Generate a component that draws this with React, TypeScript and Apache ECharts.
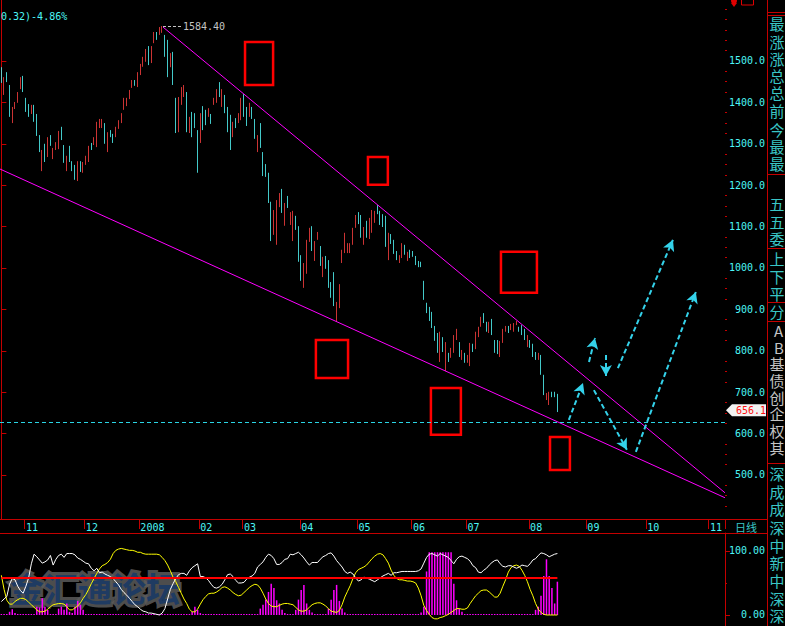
import React, { useEffect, useRef } from 'react';
import * as echarts from 'echarts';

// ---------- data ----------
const months = [
  { label: '', days: 9 },
  { label: '11', days: 22 },
  { label: '12', days: 20 },
  { label: '2008', days: 22 },
  { label: '02', days: 16 },
  { label: '03', days: 21 },
  { label: '04', days: 21 },
  { label: '05', days: 20 },
  { label: '06', days: 20 },
  { label: '07', days: 23 },
  { label: '08', days: 21 },
  { label: '09', days: 22 },
  { label: '10', days: 23 },
  { label: '11', days: 6 },
];

// [open, close, low, high]
const candles: number[][] = [
  [1485,1447,1447,1485],[1418,1461,1418,1461],[1473,1449,1449,1473],[1442,1365,1365,1442],[1350,1389,1350,1389],
  [1384,1401,1384,1401],[1399,1425,1399,1425],[1432,1461,1432,1461],[1464,1425,1425,1464],[1411,1377,1377,1411],
  [1396,1365,1365,1396],[1372,1394,1372,1394],[1394,1353,1353,1394],[1372,1319,1319,1372],[1321,1280,1280,1321],
  [1234,1285,1234,1285],[1300,1256,1256,1300],[1268,1316,1268,1316],[1321,1295,1295,1321],[1263,1290,1263,1290],
  [1285,1304,1285,1304],[1287,1331,1287,1331],[1341,1309,1309,1341],[1297,1254,1254,1297],[1234,1271,1234,1271],
  [1295,1256,1256,1295],[1258,1234,1234,1258],[1249,1213,1213,1249],[1210,1258,1210,1258],[1258,1232,1232,1258],
  [1230,1256,1230,1256],[1249,1271,1249,1271],[1256,1295,1256,1295],[1302,1285,1285,1302],[1297,1316,1297,1316],
  [1292,1353,1292,1353],[1338,1360,1338,1360],[1338,1360,1338,1360],[1350,1300,1300,1350],[1280,1328,1280,1328],
  [1333,1316,1316,1333],[1324,1302,1302,1324],[1316,1341,1316,1341],[1336,1357,1336,1357],[1350,1374,1350,1374],
  [1382,1411,1382,1411],[1391,1411,1391,1411],[1408,1430,1408,1430],[1435,1454,1435,1454],[1454,1440,1440,1454],
  [1437,1473,1437,1473],[1466,1493,1466,1493],[1486,1510,1486,1510],[1498,1529,1498,1529],[1536,1490,1490,1536],
  [1495,1536,1495,1536],[1543,1570,1543,1570],[1570,1551,1551,1570],[1563,1582,1563,1582],[1568,1584.4,1568,1584.4],
  [1563,1510,1510,1563],[1551,1461,1461,1551],[1485,1519,1485,1519],[1522,1442,1442,1522],[1411,1326,1326,1411],
  [1328,1413,1328,1413],[1394,1437,1394,1437],[1413,1442,1413,1442],[1425,1328,1328,1425],[1326,1365,1326,1365],
  [1377,1316,1316,1377],[1374,1338,1338,1374],[1333,1230,1230,1333],[1302,1374,1302,1374],[1391,1333,1333,1391],
  [1382,1345,1345,1382],[1365,1386,1365,1386],[1372,1348,1348,1372],[1394,1411,1394,1411],[1399,1432,1399,1432],
  [1449,1413,1413,1449],[1389,1432,1389,1432],[1418,1374,1374,1418],[1389,1328,1328,1389],[1370,1285,1285,1370],
  [1316,1353,1316,1353],[1362,1338,1338,1362],[1350,1374,1350,1374],[1357,1411,1357,1411],[1420,1365,1365,1420],
  [1389,1343,1343,1389],[1365,1399,1365,1399],[1389,1360,1360,1389],[1360,1312,1312,1360],[1280,1321,1280,1321],
  [1350,1290,1290,1350],[1280,1222,1222,1280],[1251,1220,1220,1251],[1230,1157,1157,1230],[1160,1065,1065,1160],
  [1080,1140,1080,1140],[1056,1164,1056,1164],[1147,1181,1147,1181],[1191,1133,1133,1191],[1102,1157,1102,1157],
  [1174,1145,1145,1174],[1104,1135,1104,1135],[1065,1138,1065,1138],[1126,1092,1092,1126],[1101,1015,1015,1101],
  [1031,969,969,1031],[952,1012,952,1012],[986,1068,986,1068],[1063,1097,1063,1097],[1101,1041,1041,1101],
  [1017,1065,1017,1065],[1068,1087,1068,1087],[1053,1005,1005,1053],[978,1027,978,1027],[1029,998,998,1029],
  [1019,952,952,1019],[966,928,928,966],[990,908,908,990],[870,918,870,918],[903,961,903,961],
  [1012,1044,1012,1044],[1036,1085,1036,1085],[1036,1060,1036,1060],[1036,1060,1036,1060],[1056,1097,1056,1097],
  [1097,1128,1097,1128],[1135,1106,1106,1135],[1128,1073,1073,1128],[1056,1099,1056,1099],[1114,1073,1073,1114],
  [1070,1121,1070,1121],[1085,1140,1085,1140],[1109,1138,1109,1138],[1152,1130,1130,1152],[1138,1104,1104,1138],
  [1130,1099,1099,1130],[1126,1051,1051,1126],[1019,1085,1019,1085],[1082,1058,1058,1082],[1068,1034,1034,1068],
  [1041,1019,1019,1041],[1012,1031,1012,1031],[1024,1060,1024,1060],[1056,1032,1032,1056],[1017,1039,1017,1039],
  [1044,1024,1024,1044],[1041,1027,1027,1041],[1029,1007,1007,1029],[1017,1002,1002,1017],[1015,1002,1002,1015],
  [969,923,923,969],[916,891,891,916],[906,872,872,906],[894,855,855,894],[860,824,824,860],
  [843,795,795,843],[773,846,773,846],[833,797,797,833],[751,821,751,821],[795,773,773,795],
  [783,807,783,807],[795,838,795,838],[826,853,826,853],[821,785,785,821],[778,802,778,802],
  [795,771,771,795],[771,790,771,790],[763,819,763,819],[817,797,797,817],[804,846,804,846],
  [833,858,833,858],[858,882,858,882],[891,867,867,891],[870,846,846,870],[843,870,843,870],
  [877,838,838,877],[826,795,795,826],[826,792,792,826],[785,824,785,824],[819,853,819,853],
  [846,860,846,860],[860,843,843,860],[850,865,850,865],[846,867,846,867],[862,872,862,872],
  [858,846,846,858],[862,838,838,862],[853,826,826,853],[809,838,809,838],[826,807,807,826],
  [817,785,785,817],[797,778,778,797],[778,795,778,795],[790,742,742,790],[742,693,693,742],
  [681,698,681,698],[669,701,669,701],[701,688,688,701],[701,688,688,701],[696,656.1,652,696],
];

const whiteLine = [
  21,25,29,48,57,55,45,38,34,45, 58,80,95,91,86,81,83,86,93,78,
  87,93,95,90,96,96,96,94,89,87, 84,81,80,73,69,73,66,67,64,62,
  60,57,52,47,40,35,31,26,21,16, 13,9,6,5,3,3,2,1,0,3,
  10,25,40,49,57,63,65,65,62,69, 74,77,80,60,60,58,54,48,43,42,
  44,48,55,63,64,60,54,50,50,51, 56,59,61,65,75,79,83,90,95,93,
  88,79,79,82,87,88,95,94,96,98, 94,89,83,78,82,82,82,87,91,93,
  96,97,92,85,80,75,68,65,67,64, 58,53,55,59,58,56,54,52,55,58,
  61,63,65,62,66,66,67,68,68,68, 68,68,68,69,72,81,90,95,96,94,
  92,96,94,92,90,85,80,87,91,92, 90,88,84,77,74,67,66,70,73,78,
  82,85,86,80,76,75,77,77,75,73, 75,78,77,76,80,86,88,93,97,96,
  94,91,93,95,96,
];

const yellowLine = [
  62,40,23,17,17,21,24,26,26,24, 20,16,12,8,5,5,6,9,13,16,
  17,18,18,17,13,8,8,11,14,19, 26,32,40,49,57,65,72,77,79,82,
  87,96,101,103,104,103,102,101,101,100, 98,98,96,95,95,95,95,95,94,90,
  85,78,69,59,52,43,34,25,18,9, 5,5,9,17,24,29,33,34,34,36,
  39,43,44,42,39,35,32,30,31,35, 39,43,46,48,47,42,34,25,18,14,
  13,13,15,17,18,18,17,16,12,8, 6,6,8,12,16,18,19,19,17,14,
  10,6,5,4,7,16,28,37,46,57, 66,71,73,75,78,83,88,92,95,96,
  94,88,81,70,62,57,55,55,54,53, 53,52,50,42,30,15,7,1,-4,-6,
  -6,-4,-3,-1,1,4,7,10,10,9, 9,11,18,24,30,34,38,39,39,36,
  32,28,28,34,45,55,67,74,77,78, 76,70,62,52,40,30,18,9,4,1,
  0,0,0,0,0,
];

const volBars = [
  0,0,0,5,9,3,0,0,0,0, 0,0,0,13,12,26,13,8,0,0,
  0,10,13,8,18,5,3,13,22,16, 8,0,0,0,0,0,0,0,0,0,
  0,0,0,0,0,0,0,0,0,0, 0,0,0,0,0,0,0,0,0,0,
  0,0,0,0,0,0,0,0,0,0, 5,13,8,3,0,0,0,0,0,0,
  0,0,0,0,0,0,0,0,0,0, 0,0,0,0,0,10,16,24,36,49,
  42,23,18,8,3,0,0,0,8,24, 39,47,18,8,4,0,0,0,0,0,
  10,24,39,47,22,10,4,0,0,0, 0,0,0,0,0,0,0,0,0,0,
  0,0,0,0,0,0,0,0,0,0, 0,0,0,0,4,13,68,98,98,98,
  98,98,98,98,98,98,49,23,10,5, 0,0,0,0,0,0,0,0,0,0,
  0,0,0,0,0,0,0,0,0,0, 0,0,0,0,0,0,8,13,30,61,
  87,61,42,18,52,
];

const peakValue = 1584.4;
const peakIndex = 59;
const lastClose = 656.1;
const supportLevel = 628;
const oscLevel = 58;
const priceTicks = [500, 600, 700, 800, 900, 1000, 1100, 1200, 1300, 1400, 1500];
const priceMinorTicks = [425,450,475,525,550,575,625,650,675,725,750,775,825,850,875,925,950,975,1025,1050,1075,1125,1150,1175,1225,1250,1275,1325,1350,1375,1425,1450,1475,1525,1550,1575,1600,1625];
const oscTicks = [0, 100];
const oscMinorTicks = [50];

// trend lines [index, price]
const trendUpper = [[59.3, 1582], [265.5, 457]];
const trendLower = [[-0.5, 1239], [265.5, 445]];
// forecast arrows: [[fromIndex, fromPrice], [toIndex, toPrice]]
const arrows = [
  [[208.2, 633], [213.4, 722]],
  [[215.6, 773], [217.8, 831]],
  [[221.8, 790], [221.8, 739]],
  [[217.4, 705], [229.5, 561]],
  [[226.2, 758], [246.4, 1068]],
  [[232.8, 556], [254.8, 942]],
];
// boxes: [fromIndex, toIndex, topPrice, bottomPrice]
const boxes = [
  [89.4, 99.7, 1546, 1442],
  [134.5, 141.8, 1268, 1201],
  [183.3, 196.5, 1039, 940],
  [115.4, 127.2, 826, 734],
  [157.6, 168.6, 710, 597],
  [201.3, 208.6, 592, 512],
];

const sideTexts = [
  ['最', 23, 'c'], ['涨', 41, 'c'], ['涨', 58, 'c'], ['总', 75, 'c'], ['总', 92, 'c'],
  ['前', 110, 'c'], ['今', 129, 'c'], ['最', 146, 'c'], ['最', 163, 'c'],
  ['五', 203, 'c'], ['五', 221, 'c'], ['委', 238, 'c'],
  ['上', 258, 'c'], ['下', 276, 'c'], ['平', 293, 'c'], ['分', 311, 'c'],
  ['A', 330, 'g'], ['B', 347, 'g'], ['基', 363, 'g'], ['债', 380, 'g'], ['创', 397, 'g'],
  ['企', 413, 'g'], ['权', 430, 'g'], ['其', 447, 'g'],
  ['深', 473, 'c'], ['成', 491, 'c'], ['成', 508, 'c'], ['深', 527, 'c'], ['中', 545, 'c'],
  ['新', 562, 'c'], ['中', 580, 'c'], ['深', 598, 'c'], ['深', 615, 'c'],
];
const sideRules = [12.5, 15.5, 174.5, 248.5, 302.5, 321.5, 463.5];

// ---------- styling ----------
const RED_AXIS = '#c40000';
const CYAN = '#4cf6f6';
const CJK_CYAN = '#3ac6c6';
const GRAY = '#c4c4c4';
const UP = '#ff4040';
const DOWN = '#54fcfc';
const MAGENTA = '#ff00ff';
const ARROW = '#34d2ea';
const MONO = '"DejaVu Sans Mono", "Liberation Mono", monospace';
const CJK = '"Noto Sans CJK SC", "Noto Sans", sans-serif';

const MAIN_MIN = 393.7;
const MAIN_MAX = 1647.3;
const SUB_MIN = -17.2;
const SUB_MAX = 128.1;

const categories: string[] = [];
const monthStart = new Map<number, string>();
months.forEach((m, mi) => {
  if (m.label) monthStart.set(categories.length, m.label);
  for (let d = 0; d < m.days; d++) categories.push(`${mi}-${d + 1}`);
});
const N = categories.length;

function txt(text: string, x: number, y: number, fill: string, fontSize: number, family: string, extra: any = {}) {
  return {
    type: 'text',
    x,
    y,
    silent: true,
    z: 20,
    style: {
      text,
      fill,
      fontSize,
      lineHeight: fontSize,
      fontFamily: family,
      align: 'left',
      textAlign: 'left',
      verticalAlign: 'middle',
      textVerticalAlign: 'middle',
      ...extra,
    },
  };
}

function ln(x1: number, y1: number, x2: number, y2: number) {
  return {
    type: 'line',
    silent: true,
    z: 20,
    shape: { x1, y1, x2, y2 },
    style: { stroke: RED_AXIS, lineWidth: 1 },
  };
}

function staticGraphics(tagY: number) {
  const g: any[] = [];
  // watermark
  g.push({
    type: 'text',
    x: 10,
    y: 587,
    z: 0,
    silent: true,
    style: {
      text: '金汇通论坛',
      fontSize: 34,
      fontWeight: 'bold',
      fontFamily: CJK,
      fill: '#173866',
      stroke: '#5c5c5c',
      lineWidth: 6,
      opacity: 0.85,
      verticalAlign: 'middle',
      textVerticalAlign: 'middle',
    },
  });
  g.push(txt('0.32)-4.86%', 1, 16, CYAN, 10, MONO));
  g.push(txt('日线', 735, 527, CJK_CYAN, 11, CJK));
  // right panel rules
  g.push(ln(767.5, 0, 767.5, 626));
  sideRules.forEach((y) => g.push(ln(767, y, 785, y)));
  g.push(ln(725, 519.5, 767, 519.5));
  g.push(ln(725, 533.5, 767, 533.5));
  sideTexts.forEach(([t, y, c]) => {
    const isLatin = t === 'A' || t === 'B';
    g.push({
      ...txt(t as string, isLatin ? 774 : 769.5, y as number, c === 'c' ? CJK_CYAN : GRAY, 11, CJK),
      scaleX: 1.36,
      scaleY: 1.36,
    });
  });
  // top-right icons
  g.push({ type: 'circle', z: 20, silent: true, shape: { cx: 734, cy: 1, r: 3 }, style: { fill: '#e00000' } });
  g.push({ type: 'polygon', z: 20, silent: true, shape: { points: [[731, 3], [737, 3], [734, 7]] }, style: { fill: '#e00000' } });
  g.push({ type: 'rect', z: 20, silent: true, shape: { x: 741.5, y: -3, width: 12, height: 8 }, style: { fill: 'none', stroke: '#e00000', lineWidth: 1 } });
  // last price tag
  g.push({
    type: 'polygon',
    z: 21,
    silent: true,
    shape: { points: [[726, tagY], [732, tagY - 6], [766, tagY - 6], [766, tagY + 6], [732, tagY + 6]] },
    style: { fill: '#f2f2f2' },
  });
  g.push({ ...txt(lastClose.toFixed(1), 736, tagY + 0.5, '#ff1010', 10, MONO), z: 22 });
  return g;
}

const option: any = {
  backgroundColor: '#000000',
  animation: false,
  grid: [
    { left: 0, top: 0, width: 725, height: 519 },
    { left: 0, top: 533, width: 725, height: 93 },
  ],
  xAxis: [
    {
      type: 'category',
      gridIndex: 0,
      data: categories,
      boundaryGap: true,
      position: 'bottom',
      axisLine: { onZero: false, lineStyle: { color: RED_AXIS, width: 1 } },
      axisTick: { show: true, interval: (i: number) => monthStart.has(i), length: 10, lineStyle: { color: RED_AXIS } },
      axisLabel: {
        show: true,
        interval: (i: number) => monthStart.has(i),
        formatter: (_v: string, i: number) => monthStart.get(i) ?? '',
        color: CYAN,
        fontFamily: MONO,
        fontSize: 10,
        align: 'left',
        margin: 3,
      },
      splitLine: { show: false },
    },
    {
      type: 'category',
      gridIndex: 1,
      data: categories,
      boundaryGap: true,
      position: 'top',
      axisLine: { onZero: false, lineStyle: { color: RED_AXIS, width: 1 } },
      axisTick: { show: false },
      axisLabel: { show: false },
      splitLine: { show: false },
    },
    { type: 'value', gridIndex: 0, min: -0.5, max: N - 0.5, show: false },
  ],
  yAxis: [
    {
      type: 'value',
      gridIndex: 0,
      position: 'right',
      min: MAIN_MIN,
      max: MAIN_MAX,
      axisLine: { show: true, lineStyle: { color: RED_AXIS } },
      axisTick: { show: true, customValues: priceTicks, length: 5, lineStyle: { color: RED_AXIS } },
      axisLabel: {
        show: true,
        customValues: priceTicks,
        formatter: (v: number) => v.toFixed(1),
        color: CYAN,
        fontFamily: MONO,
        fontSize: 10,
        align: 'right',
        margin: 40,
      },
      splitLine: { show: false },
    },
    {
      type: 'value',
      gridIndex: 0,
      position: 'right',
      min: MAIN_MIN,
      max: MAIN_MAX,
      axisLine: { show: false },
      axisTick: { show: true, customValues: priceMinorTicks, length: 2, lineStyle: { color: RED_AXIS } },
      axisLabel: { show: false },
      splitLine: { show: false },
    },
    {
      type: 'value',
      gridIndex: 1,
      position: 'right',
      min: SUB_MIN,
      max: SUB_MAX,
      axisLine: { show: true, onZero: false, lineStyle: { color: RED_AXIS } },
      axisTick: { show: true, customValues: oscTicks, length: 5, lineStyle: { color: RED_AXIS } },
      axisLabel: {
        show: true,
        customValues: oscTicks,
        formatter: (v: number) => v.toFixed(2),
        color: CYAN,
        fontFamily: MONO,
        fontSize: 10,
        align: 'right',
        margin: 40,
      },
      splitLine: { show: false },
    },
    {
      type: 'value',
      gridIndex: 1,
      position: 'right',
      min: SUB_MIN,
      max: SUB_MAX,
      axisLine: { show: false },
      axisTick: { show: true, customValues: oscMinorTicks, length: 2, lineStyle: { color: RED_AXIS } },
      axisLabel: { show: false },
      splitLine: { show: false },
    },
  ],
  series: [
    {
      type: 'candlestick',
      xAxisIndex: 0,
      yAxisIndex: 0,
      data: candles,
      barWidth: 1,
      itemStyle: { color: UP, color0: DOWN, borderColor: UP, borderColor0: DOWN, borderWidth: 0.8 },
      markLine: {
        silent: true,
        symbol: 'none',
        label: { show: false },
        lineStyle: { color: '#2ad4e4', type: [4, 3], width: 1 },
        data: [{ yAxis: supportLevel }],
      },
    },
    {
      type: 'line',
      xAxisIndex: 2,
      yAxisIndex: 0,
      data: trendUpper,
      symbol: 'none',
      lineStyle: { color: MAGENTA, width: 1 },
      markArea: {
        silent: true,
        itemStyle: { color: 'rgba(0,0,0,0)', borderColor: '#ff0000', borderWidth: 2.5 },
        data: boxes.map((b) => [{ coord: [b[0], b[2]] }, { coord: [b[1], b[3]] }]),
      },
      markLine: {
        silent: true,
        symbol: ['none', 'arrow'],
        symbolSize: [9, 11],
        label: { show: false },
        lineStyle: { color: ARROW, width: 2, type: [5, 3] },
        data: [
          ...arrows.map((a) => [{ coord: a[0] }, { coord: a[1] }]),
          [
            {
              coord: [peakIndex + 0.3, peakValue],
              symbol: 'none',
              lineStyle: { color: GRAY, width: 1, type: [3, 2] },
              label: {
                show: true,
                position: 'end',
                distance: 2,
                formatter: peakValue.toFixed(2),
                color: GRAY,
                fontFamily: MONO,
                fontSize: 10,
              },
            },
            { coord: [peakIndex + 6.9, peakValue], symbol: 'none' },
          ],
        ],
      },
    },
    {
      type: 'line',
      xAxisIndex: 2,
      yAxisIndex: 0,
      data: trendLower,
      symbol: 'none',
      lineStyle: { color: MAGENTA, width: 1 },
    },
    {
      type: 'bar',
      xAxisIndex: 1,
      yAxisIndex: 2,
      data: volBars,
      barWidth: 1.5,
      barMinHeight: 1,
      itemStyle: { color: MAGENTA },
    },
    {
      type: 'line',
      xAxisIndex: 1,
      yAxisIndex: 2,
      data: yellowLine,
      symbol: 'none',
      lineStyle: { color: '#ffff00', width: 1 },
    },
    {
      type: 'line',
      xAxisIndex: 1,
      yAxisIndex: 2,
      data: whiteLine,
      symbol: 'none',
      lineStyle: { color: '#ffffff', width: 1 },
      markLine: {
        silent: true,
        symbol: 'none',
        label: { show: false },
        lineStyle: { color: '#ff0000', width: 2, type: 'solid' },
        data: [[{ coord: [0, oscLevel] }, { coord: [candles.length - 1, oscLevel] }]],
      },
    },
  ],
};

export default function App() {
  const ref = useRef<HTMLDivElement>(null);
  useEffect(() => {
    document.body.style.margin = '0';
    document.body.style.background = '#000';
    const chart = echarts.init(ref.current!, undefined, { renderer: 'svg' });
    chart.setOption(option);
    const tagY = chart.convertToPixel({ yAxisIndex: 0 }, lastClose) as number;
    chart.setOption({ graphic: staticGraphics(tagY) });
    return () => chart.dispose();
  }, []);
  return (
    <div
      ref={ref}
      style={{ position: 'absolute', left: 0, top: 0, width: 785, height: 626, background: '#000' }}
    />
  );
}
